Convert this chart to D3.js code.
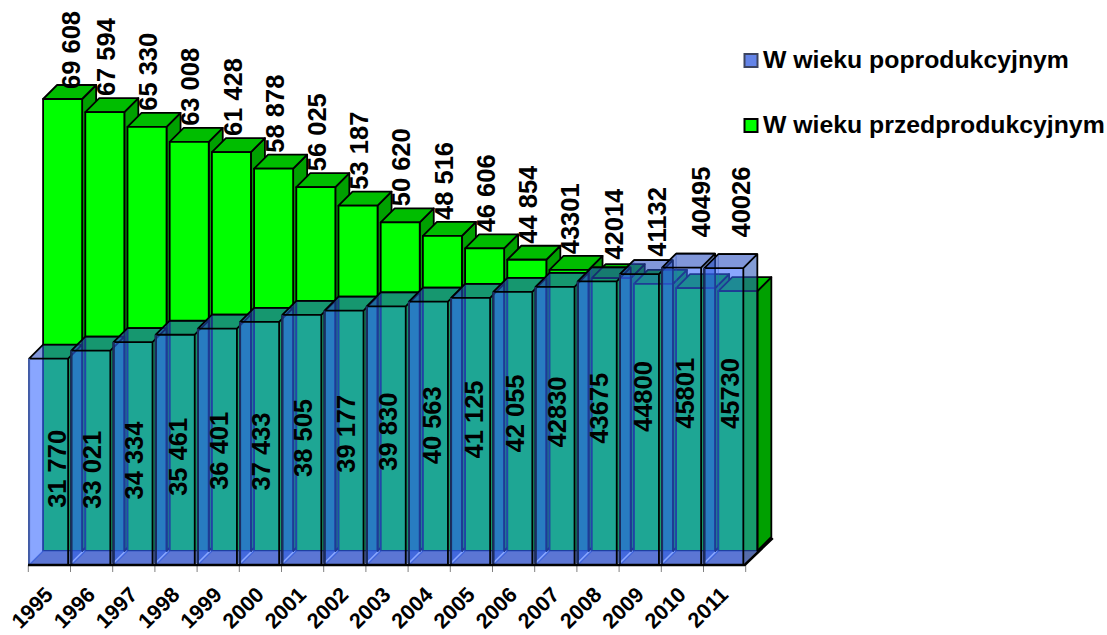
<!DOCTYPE html>
<html><head><meta charset="utf-8">
<script src="https://cdn.jsdelivr.net/npm/d3@7/dist/d3.min.js"></script>
<style>html,body{margin:0;background:#fff}svg{display:block}text{font-family:"Liberation Sans",Arial,sans-serif;fill:#000}</style>
</head><body><svg id="c" width="1107" height="635"></svg>
<script>
const years=[1995,1996,1997,1998,1999,2000,2001,2002,2003,2004,2005,2006,2007,2008,2009,2010,2011];
const poprodukcyjny=[31770,33021,34334,35461,36401,37433,38505,39177,39830,40563,41125,42055,42830,43675,44800,45801,45730];
const przedprodukcyjny=[69608,67594,65330,63008,61428,58878,56025,53187,50620,48516,46606,44854,43301,42014,41132,40495,40026];
const seriesNames=["W wieku poprodukcyjnym","W wieku przedprodukcyjnym"];
// hand-placed label nudges seen in the picture (layout, not data)
const blueNudgeX=[8,1,1,3,1,1,1,2,2,3,3,2,2,2,3,3,6];
const blueNudgeY=[7,12,7,7,4,8,-2,-4,-4,-8,-12,-15,-14,-15,-23,-23,-23];
const greenNudgeX=[8,1,1,1,1,1,1,1,1,1,1,1,1,3,3,5,3];
const greenNudgeY=[6,0,0,0,0,0,0,0,0,0,0,0,4,1,-7,-31,-34];

const D=14, floorY=565;
const svg=d3.select("#c");
const x=d3.scaleBand().domain(years).range([28.3,745.7]);
const w=x.bandwidth()*0.925;
const y=d3.scaleLinear().domain([0,69608]).range([floorY,floorY-452]);
const fmt=(v,i)=>i<12?d3.format(",")(v).replace(",", " "):String(v);
const pts=a=>a.map(p=>p.join(",")).join(" ");
const bx=d=>x(d)+0.8;

// green series, one depth slot behind
const gg=svg.append("g").attr("stroke","#000").attr("stroke-width",1.8).attr("stroke-linejoin","round");
years.forEach((yr,i)=>{
  const l=bx(yr)+D,r=l+w,b=floorY-D,t=y(przedprodukcyjny[i])-D;
  gg.append("polygon").attr("points",pts([[r,b],[r+D,b-D],[r+D,t-D],[r,t]])).attr("fill","#00a000");
  gg.append("polygon").attr("points",pts([[l,t],[l+D,t-D],[r+D,t-D],[r,t]])).attr("fill","#00bd00");
  gg.append("rect").attr("x",l).attr("y",t).attr("width",w).attr("height",b-t).attr("fill","#00ff00");
});

// blue translucent series in front
const bg=svg.append("g").attr("stroke-linejoin","round");
const A=0.58;
years.forEach((yr,i)=>{
  const l=bx(yr),r=l+w,b=floorY,t=y(poprodukcyjny[i]);
  bg.append("polygon").attr("points",pts([[l,b],[r,b],[r+D,b-D],[l+D,b-D]])).attr("fill","#87808e").attr("fill-opacity",0.9);
  bg.append("line").attr("x1",l+D).attr("x2",l+D).attr("y1",t-D).attr("y2",b-D).attr("stroke","#24409f").attr("stroke-opacity",.4).attr("stroke-width",1.2);
  bg.append("line").attr("x1",r+D).attr("x2",l+D).attr("y1",t-D).attr("y2",t-D).attr("stroke","#000").attr("stroke-width",1.6);
  bg.append("line").attr("x1",l).attr("x2",l+D).attr("y1",b).attr("y2",b-D).attr("stroke","#24409f").attr("stroke-opacity",.7).attr("stroke-width",1.2);
  bg.append("line").attr("x1",l+D).attr("x2",r+D).attr("y1",b-D).attr("y2",b-D).attr("stroke","#24409f").attr("stroke-opacity",.4).attr("stroke-width",1.2);
  bg.append("polygon").attr("points",pts([[r,b],[r+D,b-D],[r+D,t-D],[r,t]])).attr("fill","#2a55b8").attr("fill-opacity",A);
  bg.append("polygon").attr("points",pts([[l,t],[l+D,t-D],[r+D,t-D],[r,t]])).attr("fill","#264cbf").attr("fill-opacity",A);
  bg.append("rect").attr("x",l).attr("y",t).attr("width",w).attr("height",b-t).attr("fill","#3366ff").attr("fill-opacity",A);
  bg.append("path").attr("fill","none").attr("stroke","#000").attr("stroke-width",1.8)
    .attr("d",`M${l},${b}V${t}H${r}V${b}M${r},${t}L${r+D},${t-D}V${b-D}M${l},${t}L${l+D},${t-D}H${r+D}`);
  bg.append("line").attr("x1",l).attr("x2",l).attr("y1",t).attr("y2",b).attr("stroke",i?"#1c2c60":"#4560b0").attr("stroke-width",2);
});

// axis
const ax=svg.append("g").attr("transform",`translate(0,${floorY})`)
  .call(d3.axisBottom(x).tickSizeOuter(0).tickSize(7).tickFormat(d=>d));
ax.select(".domain").remove();
ax.selectAll(".tick").attr("transform",d=>`translate(${x(d)},0)`);
ax.selectAll(".tick line").attr("stroke","#808080").attr("stroke-width",1);
ax.append("g").attr("class","tick").attr("transform",`translate(${x.range()[1]},0)`)
  .append("line").attr("y2",7).attr("stroke","#808080");
ax.selectAll("text").attr("font-size",21.5).attr("font-weight","bold").attr("text-anchor","end").attr("dy",0)
  .attr("transform","translate(26,31) rotate(-45)").attr("y",0).attr("x",0).style("font-family",'"Liberation Sans"');
svg.append("path").attr("fill","none").attr("stroke","#000").attr("stroke-width",2.6)
  .attr("d",`M28,${floorY}H${x.range()[1]-1}L${x.range()[1]+D*2-1},${floorY-D*2+1}`);

// data labels
const lab=(cx,cy,s)=>svg.append("text").attr("transform",`translate(${cx},${cy}) rotate(-90)`)
  .attr("font-size",25.5).attr("font-weight","bold").attr("text-anchor","middle").attr("dy","0.36em").text(s);
years.forEach((yr,i)=>{
  lab(bx(yr)+w/2+blueNudgeX[i],(floorY+y(poprodukcyjny[i]))/2+blueNudgeY[i],fmt(poprodukcyjny[i],i));
});
years.forEach((yr,i)=>{
  lab(bx(yr)+D+w/2+greenNudgeX[i],y(przedprodukcyjny[i])-D-17-38+greenNudgeY[i],fmt(przedprodukcyjny[i],i));
});

// legend
const lg=svg.append("g");
const swatchY=[54,119], textY=[68,133], swatchFill=["#6484e8","#00ff00"], swatchStroke=["#3c4460","#000"];
seriesNames.forEach((n,i)=>{
  lg.append("rect").attr("x",744.5).attr("y",swatchY[i]).attr("width",13).attr("height",13).attr("fill",swatchFill[i]).attr("stroke",swatchStroke[i]).attr("stroke-width",2);
  lg.append("text").attr("x",763).attr("y",textY[i]).attr("font-size",24.8).attr("font-weight","bold").text(n);
});
</script></body></html>
